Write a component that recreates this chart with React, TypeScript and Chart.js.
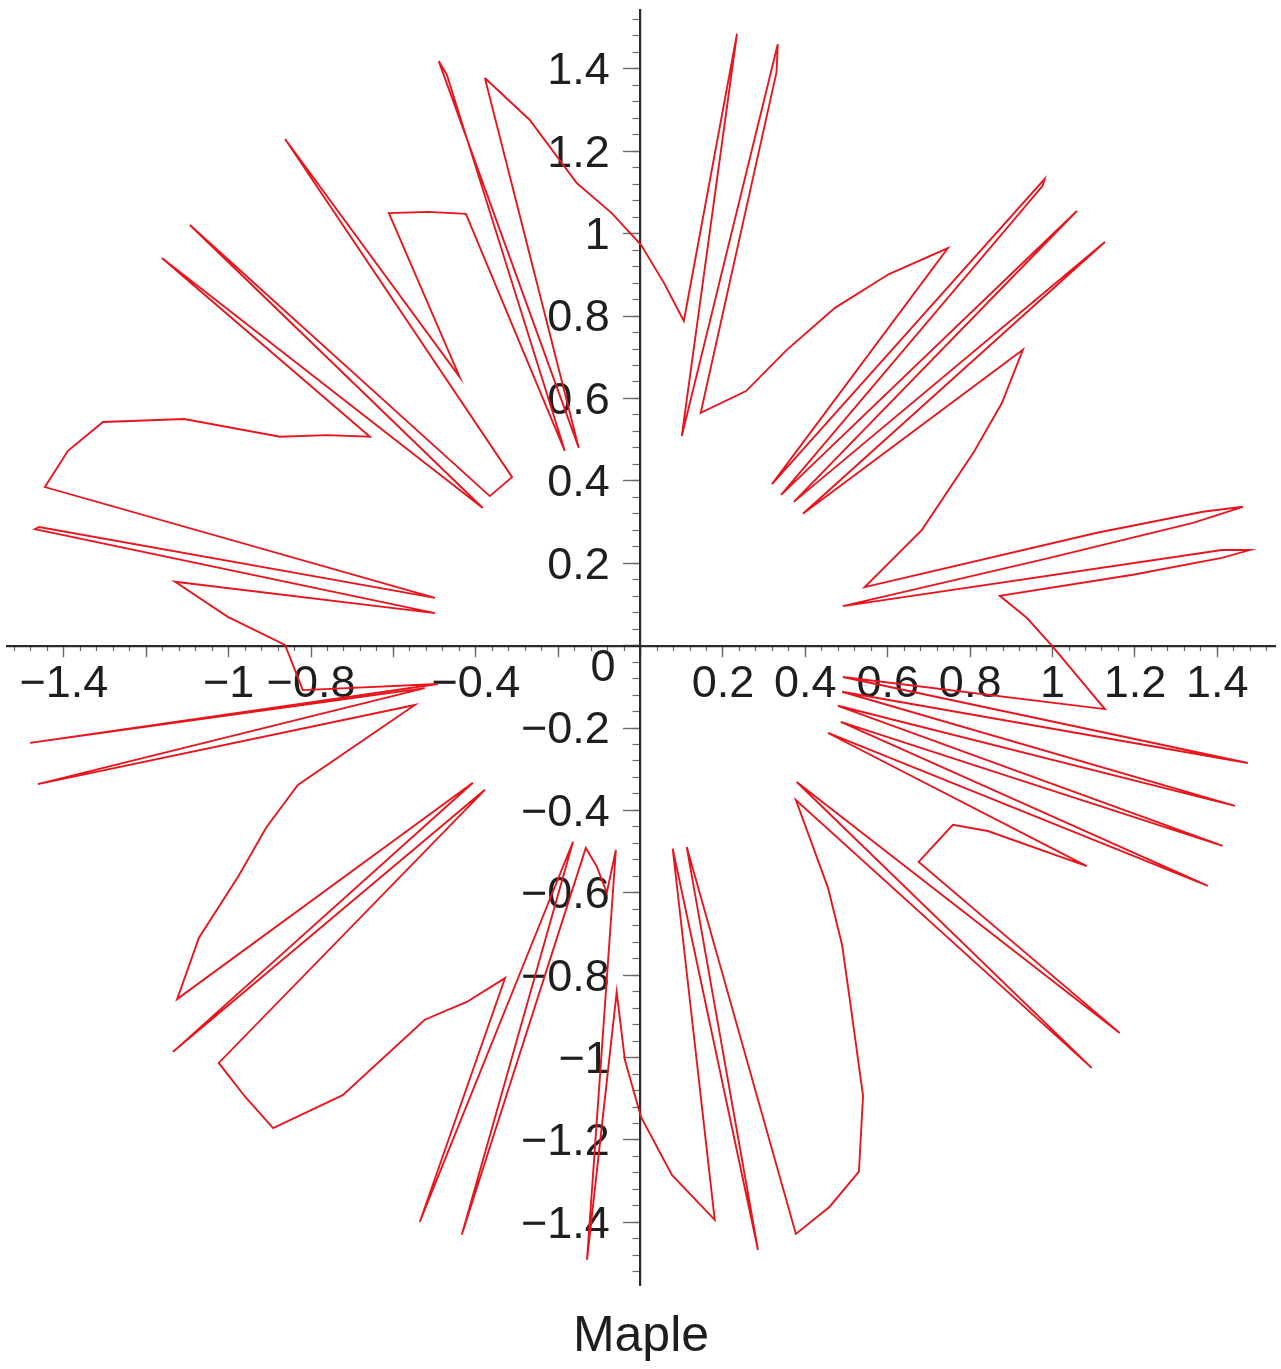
import React, { useEffect, useRef } from "react";
import { Chart, registerables } from "chart.js";

Chart.register(...registerables);

// Curve vertices (x, y), in order along the closed curve
const curveX = [
  -0.378, -0.269, -0.155, -0.07, 0.001, 0.057, 0.105, 0.234, 0.1, 0.333, 0.33, 0.146, 0.256, 0.355, 0.472, 0.603,
  0.746, 0.319, 0.981, 0.976, 0.341, 1.059, 0.372, 1.127, 0.394, 0.928, 0.877, 0.809, 0.683, 0.544, 1.108, 1.365,
  1.462, 1.341, 0.993, 0.491, 1.411, 1.479, 1.411, 1.195, 0.872, 0.938, 1.001, 1.127, 0.491, 1.474, 0.489, 1.443,
  0.479, 1.413, 0.486, 1.377, 0.455, 1.083, 0.843, 0.758, 0.675, 1.163, 0.379, 1.095, 0.377, 0.455, 0.489, 0.508,
  0.54, 0.53, 0.459, 0.377, 0.112, 0.285, 0.078, 0.18, 0.076, 0.001, -0.038, -0.058, -0.13, -0.06, -0.082, -0.106,
  -0.133, -0.434, -0.164, -0.536, -0.329, -0.422, -0.524, -0.723, -0.892, -0.96, -1.024, -0.378, -1.135, -0.407,
  -1.125, -1.072, -0.977, -0.909, -0.832, -0.548, -1.463, -0.524, -1.482, -0.492, -0.82, -0.863, -1.002, -1.13,
  -0.499, -1.47, -1.46, -0.499, -1.446, -1.39, -1.305, -1.108, -0.875, -0.761, -0.657, -1.162, -0.383, -1.094,
  -0.366, -0.312, -0.863, -0.439, -0.611, -0.516, -0.424, -0.184, -0.47, -0.49, -0.15, -0.378,
];
const curveY = [
  1.378, 1.276, 1.123, 1.05, 0.973, 0.88, 0.788, 1.485, 0.509, 1.46, 1.392, 0.565, 0.618, 0.718, 0.82, 0.902,
  0.965, 0.392, 1.133, 1.116, 0.366, 1.055, 0.349, 0.98, 0.32, 0.718, 0.589, 0.47, 0.281, 0.142, 0.274, 0.325,
  0.337, 0.298, 0.213, 0.096, 0.232, 0.232, 0.213, 0.172, 0.121, 0.067, -0.003, -0.154, -0.076, -0.285, -0.112, -0.389,
  -0.146, -0.486, -0.185, -0.583, -0.212, -0.535, -0.45, -0.435, -0.525, -0.94, -0.331, -1.025, -0.375, -0.588, -0.726, -0.86,
  -1.093, -1.277, -1.362, -1.428, -0.489, -1.467, -0.493, -1.394, -1.285, -1.144, -1.006, -0.841, -1.491, -0.496, -0.6, -0.537,
  -0.491, -1.43, -0.476, -1.399, -0.807, -0.865, -0.908, -1.091, -1.171, -1.095, -1.013, -0.35, -0.986, -0.333,
  -0.858, -0.709, -0.561, -0.442, -0.338, -0.144, -0.336, -0.103, -0.236, -0.093, -0.108, 0.002, 0.07, 0.155,
  0.079, 0.283, 0.288, 0.116, 0.385, 0.473, 0.543, 0.55, 0.507, 0.511, 0.507, 0.941, 0.334, 1.021,
  0.363, 0.409, 1.23, 0.652, 1.05, 1.053, 1.048, 0.473, 1.385, 1.419, 0.48, 1.378,
];

// Axis ranges and ticks
const xRange = [-1.538, 1.54];
const yRange = [-1.552, 1.543];
const majorTicks = [-1.4, -1.2, -1, -0.8, -0.6, -0.4, -0.2, 0, 0.2, 0.4, 0.6, 0.8, 1, 1.2, 1.4];
const xLabelTicks = [-1.4, -1, -0.8, -0.4, 0.2, 0.4, 0.6, 0.8, 1, 1.2, 1.4];
const yLabelTicks = [-1.4, -1.2, -1, -0.8, -0.6, -0.4, -0.2, 0.2, 0.4, 0.6, 0.8, 1, 1.2, 1.4];
const originLabel = "0";
const originLabelAt = [-0.0915];
const minorStep = 0.04;
const minorLimit = 1.52;
const titleText = "Maple";

const FONT = "'Liberation Sans', Arial, Helvetica, sans-serif";
const TEXT = "#1e1e1e";
const AXIS = "#2b2b2b";
const TICK = "#6a6a6a";
const RED = "#e8151d";

function minorTicks(): number[] {
  const out: number[] = [];
  const n = Math.round(minorLimit / minorStep);
  for (let i = -n; i <= n; i++) out.push(Math.round(i * minorStep * 100) / 100);
  return out;
}

function fmt(v: number): string {
  const r = Math.round(v * 10) / 10;
  const s = String(Math.abs(r));
  return r < 0 ? "\u2212" + s : s;
}

const setTicks = (vals: number[]) => (scale: any) => {
  scale.ticks = vals.map((v) => ({ value: v }));
};

// keep the centred axes from reserving any margin around the plot area
const noPadding = (scale: any) => {
  scale.paddingTop = 0;
  scale.paddingBottom = 0;
  scale.paddingLeft = 0;
  scale.paddingRight = 0;
};

export default function App() {
  const ref = useRef<HTMLCanvasElement | null>(null);

  useEffect(() => {
    if (!ref.current) return;
    const pts = curveX.map((x, i) => ({ x, y: curveY[i] }));
    const minors = minorTicks();
    const hiddenScaleBase = (axis: "x" | "y", min: number, max: number) => ({
      type: "linear" as const,
      axis,
      min,
      max,
      border: { display: false },
      afterFit: noPadding,
    });
    const labelFont = { family: FONT, size: 45 };

    const chart = new Chart(ref.current, {
      type: "scatter",
      data: {
        datasets: [
          {
            data: pts,
            showLine: true,
            borderColor: RED,
            borderWidth: 1.9,
            pointRadius: 0,
            pointHoverRadius: 0,
            tension: 0,
            fill: false,
            xAxisID: "x",
            yAxisID: "y",
          },
        ],
      },
      options: {
        animation: false,
        responsive: false,
        maintainAspectRatio: false,
        events: [],
        layout: { padding: { left: 7, right: 6, top: 10, bottom: 0 } },
        plugins: {
          legend: { display: false },
          tooltip: { enabled: false },
          title: {
            display: true,
            text: titleText,
            position: "bottom",
            color: TEXT,
            font: { family: FONT, size: 50, weight: "normal" },
            padding: { top: 22, bottom: 2 },
          },
        },
        scales: {
          x: {
            type: "linear",
            axis: "x",
            min: xRange[0],
            max: xRange[1],
            position: { y: 0 } as any,
            afterBuildTicks: setTicks(majorTicks),
            afterFit: noPadding,
            border: { display: true, color: AXIS, width: 2.2 },
            grid: { display: true, drawOnChartArea: false, drawTicks: true, tickLength: 10, tickColor: TICK, tickWidth: 1.4 },
            ticks: { display: false },
          },
          xMinor: {
            ...hiddenScaleBase("x", xRange[0], xRange[1]),
            position: { y: 0 } as any,
            afterBuildTicks: setTicks(minors),
            grid: { display: true, drawOnChartArea: false, drawTicks: true, tickLength: 5, tickColor: TICK, tickWidth: 1.2 },
            ticks: { display: false },
          },
          xLabels: {
            ...hiddenScaleBase("x", xRange[0], xRange[1]),
            position: { y: -0.03 } as any,
            afterBuildTicks: setTicks(xLabelTicks),
            grid: { display: false, drawTicks: false },
            ticks: {
              display: true,
              padding: 0,
              maxRotation: 0,
              autoSkip: false,
              color: TEXT,
              font: labelFont,
              callback: (v: any) => fmt(Number(v)),
            },
          },
          xOrigin: {
            ...hiddenScaleBase("x", xRange[0], xRange[1]),
            position: { y: 0.011 } as any,
            afterBuildTicks: setTicks(originLabelAt),
            grid: { display: false, drawTicks: false },
            ticks: {
              display: true,
              padding: 0,
              maxRotation: 0,
              autoSkip: false,
              color: TEXT,
              font: labelFont,
              callback: () => originLabel,
            },
          },
          y: {
            type: "linear",
            axis: "y",
            min: yRange[0],
            max: yRange[1],
            position: { x: 0 } as any,
            afterBuildTicks: setTicks(majorTicks),
            afterFit: noPadding,
            border: { display: true, color: AXIS, width: 2.2 },
            grid: { display: true, drawOnChartArea: false, drawTicks: true, tickLength: 16, tickColor: TICK, tickWidth: 1.4 },
            ticks: { display: false },
          },
          yMinor: {
            ...hiddenScaleBase("y", yRange[0], yRange[1]),
            position: { x: 0 } as any,
            afterBuildTicks: setTicks(minors),
            grid: { display: true, drawOnChartArea: false, drawTicks: true, tickLength: 8.5, tickColor: TICK, tickWidth: 1.2 },
            ticks: { display: false },
          },
          yLabels: {
            ...hiddenScaleBase("y", yRange[0], yRange[1]),
            position: { x: -0.0745 } as any,
            afterBuildTicks: setTicks(yLabelTicks),
            grid: { display: false, drawTicks: false },
            ticks: {
              display: true,
              padding: 0,
              autoSkip: false,
              labelOffset: 3,
              color: TEXT,
              font: labelFont,
              callback: (v: any) => fmt(Number(v)),
            },
          },
        } as any,
      },
    });
    return () => chart.destroy();
  }, []);

  return (
    <div style={{ position: "absolute", left: 0, top: 0, width: 1281, height: 1369, background: "#fff" }}>
      <canvas ref={ref} width={1281} height={1369} style={{ display: "block", width: 1281, height: 1369 }} />
    </div>
  );
}
